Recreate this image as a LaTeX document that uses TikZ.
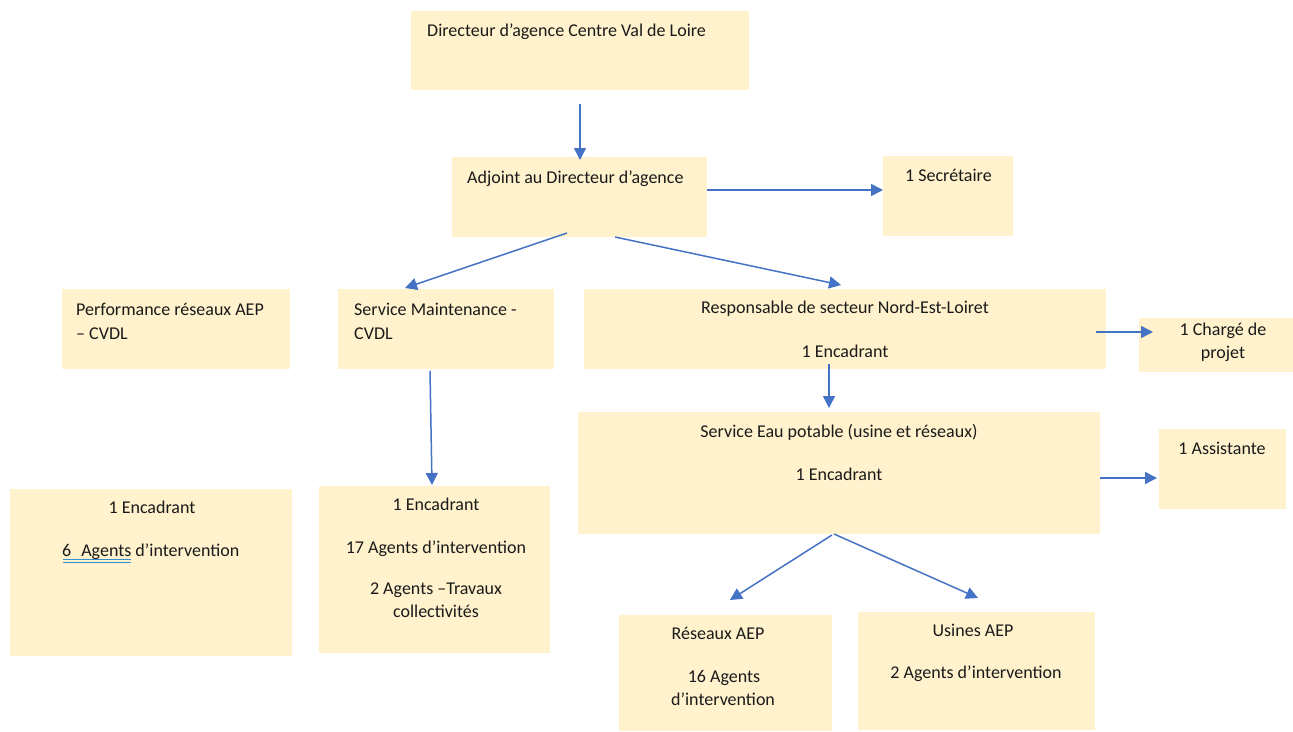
\documentclass[tikz,border=0pt]{standalone}
\usepackage{fontspec}
\setmainfont{Carlito}
\usetikzlibrary{arrows.meta}
\definecolor{boxfill}{HTML}{FFF2CC}
\definecolor{arrowblue}{HTML}{4472C4}
\definecolor{txt}{HTML}{1A1A1A}
\tikzset{
  orgbox/.style={fill=boxfill, draw=none, inner sep=0pt},
  lbl/.style={font=\fontsize{18}{24}\selectfont, text=txt, inner sep=0pt},
  lblL/.style={lbl, anchor=base west},
  lblC/.style={lbl, anchor=base},
  link/.style={draw=arrowblue, line width=1.5pt, -{Triangle[length=12pt,width=12pt]}},
  spell/.style={draw=arrowblue!80!cyan, line width=0.9pt}
}
\newcommand{\orgbox}[5]{% name, x1, y1, x2, y2
  \path[orgbox] (#2,#3) rectangle (#4,#5);
  \node[orgbox, minimum width={(#4-#2)*1pt}, minimum height={(#5-#3)*1pt}] (#1) at ({(#2+#4)/2},{(#3+#5)/2}) {};
}
\begin{document}
\begin{tikzpicture}[x=1pt,y=-1pt]
\useasboundingbox (0,0) rectangle (1293,731);
\fill[white] (0,0) rectangle (1293,731);

% boxes
\orgbox{dir}{411}{11}{749}{90}
\orgbox{adj}{452}{157}{707}{237}
\orgbox{sec}{883}{156}{1013}{236}
\orgbox{perf}{62}{289}{290}{369}
\orgbox{maint}{338}{289}{554}{369}
\orgbox{resp}{584}{289}{1106}{369}
\orgbox{charge}{1139}{318}{1293}{372}
\orgbox{eau}{578}{412}{1100}{534}
\orgbox{assist}{1159}{429}{1286}{509}
\orgbox{grpL}{10}{489}{292}{656}
\orgbox{grpM}{319}{486}{550}{653}
\orgbox{res}{619}{615}{832}{731}
\orgbox{usi}{858}{612}{1095}{730}

% texts
\node[lblL] (tdir) at (427,36) {Directeur d’agence Centre Val de Loire};
\node[lblL] (tadj) at (467,183) {Adjoint au Directeur d’agence};
\node[lblL] (tsec) at (905,181) {1 Secrétaire};
\node[lblL] (tperf1) at (76,315) {Performance réseaux AEP};
\node[lblL] (tperf2) at (76,339) {– CVDL};
\node[lblL] (tmaint1) at (354,315) {Service Maintenance -};
\node[lblL] (tmaint2) at (354,339) {CVDL};
\node[lblC] (tresp1) at (845,313) {Responsable de secteur Nord-Est-Loiret};
\node[lblC] (tresp2) at (845,357) {1 Encadrant};
\node[lblC] (tch1) at (1223,335) {1 Chargé de};
\node[lblC] (tch2) at (1223,358) {projet};
\node[lblC] (teau1) at (839,437) {Service Eau potable (usine et réseaux)};
\node[lblC] (teau2) at (839,480) {1 Encadrant};
\node[lblC] (tass) at (1222,454) {1 Assistante};
\node[lblC] (tL1) at (152,513) {1 Encadrant};
\node[lblL] (tL2) at (62,556) {6\hspace{10pt}Agents d’intervention};
\node[lblC] (tM1) at (436,510) {1 Encadrant};
\node[lblC] (tM2) at (436,553) {17 Agents d’intervention};
\node[lblC] (tM3) at (436,594) {2 Agents –Travaux};
\node[lblC] (tM4) at (436,617) {collectivités};
\node[lblC] (tres1) at (718,639) {Réseaux AEP};
\node[lblC] (tres2) at (724,682) {16 Agents};
\node[lblC] (tres3) at (723,705) {d’intervention};
\node[lblC] (tusi1) at (973,636) {Usines AEP};
\node[lblC] (tusi2) at (976,678) {2 Agents d’intervention};

% spell-check underline
\coordinate (u1a) at (63,559); \coordinate (u1b) at (131,559);
\coordinate (u2a) at (63,562); \coordinate (u2b) at (131,562);
\draw[spell] (u1a) -- (u1b);
\draw[spell] (u2a) -- (u2b);

% connector end points
\coordinate (a1s) at (580,104);  \coordinate (a1e) at (580,160);
\coordinate (a2s) at (707,190);  \coordinate (a2e) at (883,190);
\coordinate (a3s) at (567,233);  \coordinate (a3e) at (405,288);
\coordinate (a4s) at (615,237);  \coordinate (a4e) at (841,285);
\coordinate (a5s) at (430,371);  \coordinate (a5e) at (432,485);
\coordinate (a6s) at (829,364);  \coordinate (a6e) at (829,408);
\coordinate (a7s) at (1096,332); \coordinate (a7e) at (1153,332);
\coordinate (a8s) at (1100,478); \coordinate (a8e) at (1157,478);
\coordinate (a9s) at (832,535);  \coordinate (a9e) at (730,600);
\coordinate (a10s) at (834,534); \coordinate (a10e) at (978,598);

\draw[link] (a1s) -- (a1e);
\draw[link] (a2s) -- (a2e);
\draw[link] (a3s) -- (a3e);
\draw[link] (a4s) -- (a4e);
\draw[link] (a5s) -- (a5e);
\draw[link] (a6s) -- (a6e);
\draw[link] (a7s) -- (a7e);
\draw[link] (a8s) -- (a8e);
\draw[link] (a9s) -- (a9e);
\draw[link] (a10s) -- (a10e);
\end{tikzpicture}
\end{document}
